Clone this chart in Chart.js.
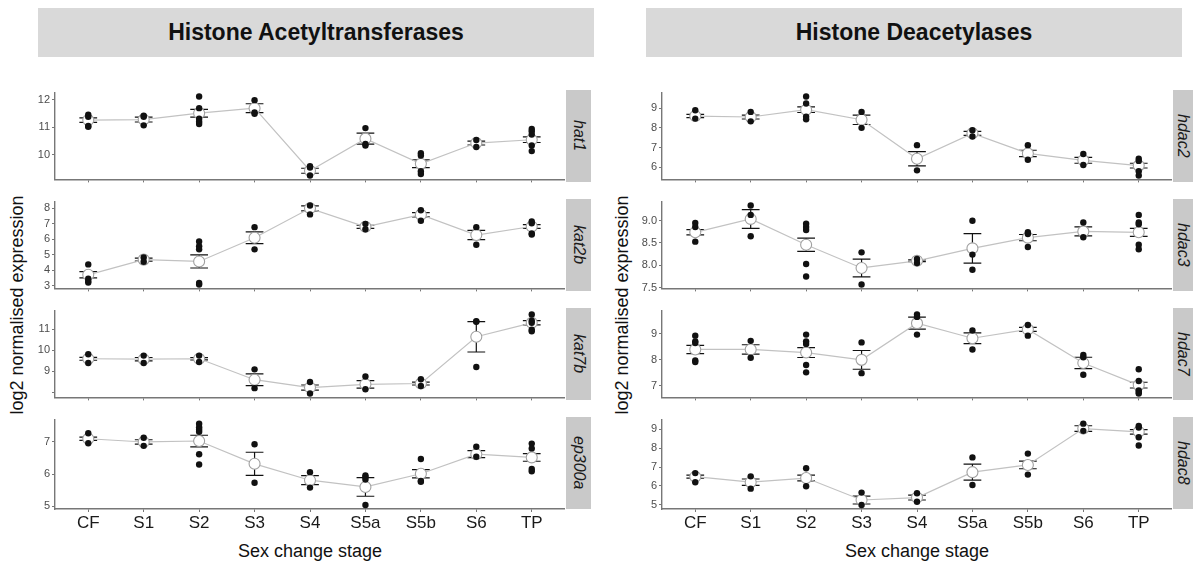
<!DOCTYPE html>
<html>
<head>
<meta charset="utf-8">
<script src="https://cdn.jsdelivr.net/npm/chart.js@4.4.1/dist/chart.umd.min.js"></script>
<style>
body { margin: 0; background: #fff; font-family: "Liberation Sans", Arial, sans-serif; }
#wrap { position: relative; width: 1193px; height: 571px; overflow: hidden; }
#wrap canvas { position: absolute; }
.head { position: absolute; top: 8px; height: 49px; background: #d9d9d9; font-weight: bold; font-size: 23px; line-height: 49px; text-align: center; color: #111; }
.strip { position: absolute; height: 92px; background: #c9c9c9; display: flex; align-items: center; justify-content: center; overflow: hidden; }
.strip span { writing-mode: vertical-rl; font-style: italic; font-size: 16px; color: #1a1a1a; }
.ylab { position: absolute; font-size: 18px; white-space: nowrap; color: #111; transform: translate(-50%, -50%) rotate(-90deg); }
.xlab { position: absolute; font-size: 18px; white-space: nowrap; color: #111; transform: translate(-50%, -50%); }
</style>
</head>
<body>
<div id="wrap">
  <div class="head" style="left:38px;width:556px">Histone Acetyltransferases</div>
  <div class="head" style="left:646px;width:536px">Histone Deacetylases</div>
  <div class="ylab" style="left:17px;top:305px">log2 normalised expression</div>
  <div class="ylab" style="left:622px;top:305px">log2 normalised expression</div>
  <div class="xlab" style="left:310px;top:551px">Sex change stage</div>
  <div class="xlab" style="left:917px;top:551px">Sex change stage</div>
</div>
<script>
var stages = ['CF', 'S1', 'S2', 'S3', 'S4', 'S5a', 'S5b', 'S6', 'TP'];

// histone acetyltransferases
var hat1Mean = [11.26, 11.28, 11.51, 11.69, 9.43, 10.59, 9.68, 10.43, 10.55];
var hat1Se = [0.08, 0.09, 0.14, 0.16, 0.09, 0.2, 0.14, 0.07, 0.1];
var hat1Pts = [[11.45, 11.38, 11.05, 11.02], [11.42, 11.38, 11.07], [12.11, 11.69, 11.31, 11.2, 11.12], [11.98, 11.54, 11.49], [9.59, 9.55, 9.26], [10.97, 10.4, 10.34], [10.06, 9.98, 9.41, 9.31], [10.54, 10.29], [10.94, 10.86, 10.74, 10.34, 10.14]];
var hat1Ticks = [10, 11, 12];

var kat2bMean = [3.7, 4.68, 4.56, 6.09, 7.98, 6.79, 7.57, 6.26, 6.81];
var kat2bSe = [0.2, 0.1, 0.42, 0.38, 0.16, 0.1, 0.14, 0.3, 0.12];
var kat2bPts = [[4.37, 3.45, 3.3, 3.2], [4.82, 4.54], [5.85, 5.54, 5.34, 3.18, 3.08], [6.77, 5.34], [8.16, 7.59], [6.98, 6.63], [7.86, 7.18], [6.77, 5.64], [7.14, 7.02, 6.36, 6.3]];
var kat2bTicks = [3, 4, 5, 6, 7, 8];

var kat7bMean = [9.6, 9.58, 9.6, 8.61, 8.24, 8.39, 8.43, 10.64, 11.3];
var kat7bSe = [0.07, 0.08, 0.05, 0.28, 0.12, 0.18, 0.07, 0.72, 0.1];
var kat7bPts = [[9.81, 9.4], [9.75, 9.4], [9.75, 9.45], [9.1, 8.21], [8.5, 7.96], [8.76, 8.16], [8.63, 8.31], [11.37, 11.35, 9.21], [11.69, 11.4, 11.3, 10.97, 10.9]];
var kat7bTicks = [8, 9, 10, 11];
var kat7bLabels = ['', '9', '10', '11'];

var ep300aMean = [7.1, 7.0, 7.03, 6.32, 5.81, 5.6, 6.01, 6.62, 6.52];
var ep300aSe = [0.05, 0.07, 0.18, 0.36, 0.14, 0.29, 0.13, 0.11, 0.12];
var ep300aPts = [[7.27, 6.96], [7.13, 6.88], [7.57, 7.46, 7.39, 7.32, 6.62, 6.3], [6.93, 5.73], [6.06, 5.58], [5.96, 5.91, 5.83, 5.04], [6.47, 5.79, 5.76], [6.85, 6.54], [6.95, 6.8, 6.16, 6.09]];
var ep300aTicks = [5, 6, 7];

// histone deacetylases
var hdac2Mean = [8.6, 8.55, 8.92, 8.41, 6.43, 7.72, 6.7, 6.35, 6.08];
var hdac2Se = [0.08, 0.1, 0.14, 0.24, 0.36, 0.1, 0.16, 0.15, 0.12];
var hdac2Pts = [[8.89, 8.47], [8.81, 8.33], [9.59, 9.24, 8.57, 8.44], [8.81, 8.0], [7.12, 5.84], [7.88, 7.56], [7.12, 6.38], [6.67, 6.11], [6.43, 6.32, 5.8, 5.58]];
var hdac2Ticks = [6, 7, 8, 9];

var hdac3Mean = [8.74, 9.04, 8.46, 7.94, 8.1, 8.38, 8.62, 8.76, 8.74];
var hdac3Se = [0.06, 0.21, 0.15, 0.2, 0.02, 0.33, 0.07, 0.1, 0.09];
var hdac3Pts = [[8.95, 8.86, 8.53], [9.34, 9.13, 8.65], [8.93, 8.86, 8.79, 8.03, 7.75], [8.29, 7.57], [8.14, 8.05], [9.0, 8.24, 7.9], [8.74, 8.7, 8.41], [8.96, 8.63], [9.13, 8.96, 8.92, 8.46, 8.36]];
var hdac3Ticks = [7.5, 8, 8.5, 9];
var hdac3Labels = ['7.5', '8.0', '8.5', '9.0'];

var hdac7Mean = [8.39, 8.39, 8.27, 7.99, 9.4, 8.82, 9.16, 7.87, 7.02];
var hdac7Se = [0.16, 0.18, 0.19, 0.36, 0.23, 0.21, 0.08, 0.22, 0.11];
var hdac7Pts = [[8.92, 8.7, 8.64, 7.97, 7.91], [8.72, 8.07], [8.96, 8.7, 8.6, 7.79, 7.51], [8.66, 7.48], [9.73, 9.64, 8.96], [9.12, 8.39], [9.33, 8.92], [8.18, 8.09, 7.42], [7.63, 7.18, 6.82, 6.76, 6.7]];
var hdac7Ticks = [7, 8, 9];

var hdac8Mean = [6.49, 6.2, 6.42, 5.26, 5.39, 6.73, 7.11, 9.03, 8.86];
var hdac8Se = [0.08, 0.17, 0.15, 0.21, 0.13, 0.42, 0.2, 0.15, 0.12];
var hdac8Pts = [[6.68, 6.2], [6.51, 5.86], [6.94, 5.99], [5.65, 5.0], [5.62, 5.17], [7.51, 6.05], [7.71, 6.6], [9.29, 8.91], [9.17, 9.09, 8.57, 8.14]];
var hdac8Ticks = [5, 6, 7, 8, 9];

var panels = [
  [
    {name: 'hat1', mean: hat1Mean, se: hat1Se, pts: hat1Pts, ticks: hat1Ticks},
    {name: 'kat2b', mean: kat2bMean, se: kat2bSe, pts: kat2bPts, ticks: kat2bTicks},
    {name: 'kat7b', mean: kat7bMean, se: kat7bSe, pts: kat7bPts, ticks: kat7bTicks, labels: kat7bLabels},
    {name: 'ep300a', mean: ep300aMean, se: ep300aSe, pts: ep300aPts, ticks: ep300aTicks}
  ],
  [
    {name: 'hdac2', mean: hdac2Mean, se: hdac2Se, pts: hdac2Pts, ticks: hdac2Ticks},
    {name: 'hdac3', mean: hdac3Mean, se: hdac3Se, pts: hdac3Pts, ticks: hdac3Ticks, labels: hdac3Labels},
    {name: 'hdac7', mean: hdac7Mean, se: hdac7Se, pts: hdac7Pts, ticks: hdac7Ticks},
    {name: 'hdac8', mean: hdac8Mean, se: hdac8Se, pts: hdac8Pts, ticks: hdac8Ticks}
  ]
];

var wrap = document.getElementById('wrap');
var family = '"Liberation Sans", Arial, sans-serif';
var axisCol = '#777777';
var panelLeft = [0, 607];
var stripW = [25, 20];
var facetTop = [90, 199, 308, 417];
var plotH = 92, padTop = 6, yW = 55, plotW = 510;

// mean +/- se bars, drawn after the dots and before the mean line
function errPlugin(mean, se) {
  return {
    id: 'errbars',
    beforeDatasetDraw: function(chart, args) {
      if (args.index !== 1) return;
      var c = chart.ctx, xs = chart.scales.x, ys = chart.scales.y;
      c.save();
      c.strokeStyle = '#111';
      c.lineWidth = 1.2;
      for (var i = 0; i < mean.length; i++) {
        var x = xs.getPixelForValue(i);
        var x0 = xs.getPixelForValue(i - 0.16), x1 = xs.getPixelForValue(i + 0.16);
        var yt = ys.getPixelForValue(mean[i] + se[i]);
        var yb = ys.getPixelForValue(mean[i] - se[i]);
        c.beginPath();
        c.moveTo(x0, yt); c.lineTo(x1, yt);
        c.moveTo(x, yt); c.lineTo(x, yb);
        c.moveTo(x0, yb); c.lineTo(x1, yb);
        c.stroke();
      }
      c.restore();
    }
  };
}

function makeFacet(g, p, row) {
  var last = row === 3;
  var xh = last ? 40 : 6;
  var left = panelLeft[p];

  var cv = document.createElement('canvas');
  cv.width = yW + plotW;
  cv.height = padTop + plotH + xh;
  cv.style.left = left + 'px';
  cv.style.top = (facetTop[row] - padTop) + 'px';
  wrap.appendChild(cv);

  var strip = document.createElement('div');
  strip.className = 'strip';
  strip.style.left = (left + yW + plotW + 1) + 'px';
  strip.style.width = stripW[p] + 'px';
  strip.style.top = facetTop[row] + 'px';
  strip.innerHTML = '<span>' + g.name + '</span>';
  wrap.appendChild(strip);

  var dots = [], means = [], lo = Infinity, hi = -Infinity;
  g.pts.forEach(function(list, i) {
    list.forEach(function(v) {
      dots.push({x: i, y: v});
      lo = Math.min(lo, v); hi = Math.max(hi, v);
    });
    means.push({x: i, y: g.mean[i]});
    lo = Math.min(lo, g.mean[i] - g.se[i]);
    hi = Math.max(hi, g.mean[i] + g.se[i]);
  });
  var pad = (hi - lo) * 0.05;
  var labels = g.labels || g.ticks.map(String);

  new Chart(cv, {
    type: 'scatter',
    data: {
      datasets: [
        {data: dots, pointRadius: 3.2, pointBackgroundColor: '#111', pointBorderWidth: 0, clip: false},
        {type: 'line', data: means, borderColor: '#c2c2c2', borderWidth: 1.2,
         pointRadius: 5.5, pointBackgroundColor: '#fff', pointBorderColor: '#a0a0a0', pointBorderWidth: 1.1, clip: false}
      ]
    },
    options: {
      responsive: false,
      animation: false,
      devicePixelRatio: 1,
      events: [],
      layout: {autoPadding: false, padding: {top: padTop, left: 0, right: 0, bottom: 0}},
      plugins: {legend: {display: false}, tooltip: {enabled: false}},
      scales: {
        x: {
          type: 'linear', min: -0.6, max: 8.6,
          afterBuildTicks: function(s) { s.ticks = stages.map(function(c, i) { return {value: i}; }); },
          afterFit: function(s) { s.height = xh; },
          ticks: {
            autoSkip: false, maxRotation: 0, padding: 1, color: '#1a1a1a',
            font: {size: 17, family: family},
            callback: function(v, i) { return last ? stages[i] : ''; }
          },
          grid: {drawOnChartArea: false, tickLength: 3, color: axisCol},
          border: {color: axisCol, width: 1.4}
        },
        y: {
          min: lo - pad, max: hi + pad,
          afterBuildTicks: function(s) { s.ticks = g.ticks.map(function(v) { return {value: v}; }); },
          afterFit: function(s) { s.width = yW; },
          ticks: {
            padding: 2, color: '#4d4d4d', font: {size: 11, family: family},
            callback: function(v, i) { return labels[i]; }
          },
          grid: {drawOnChartArea: false, tickLength: 3, color: axisCol},
          border: {color: axisCol, width: 1.4}
        }
      }
    },
    plugins: [errPlugin(g.mean, g.se)]
  });
}

panels.forEach(function(list, p) {
  list.forEach(function(g, row) { makeFacet(g, p, row); });
});
</script>
</body>
</html>
